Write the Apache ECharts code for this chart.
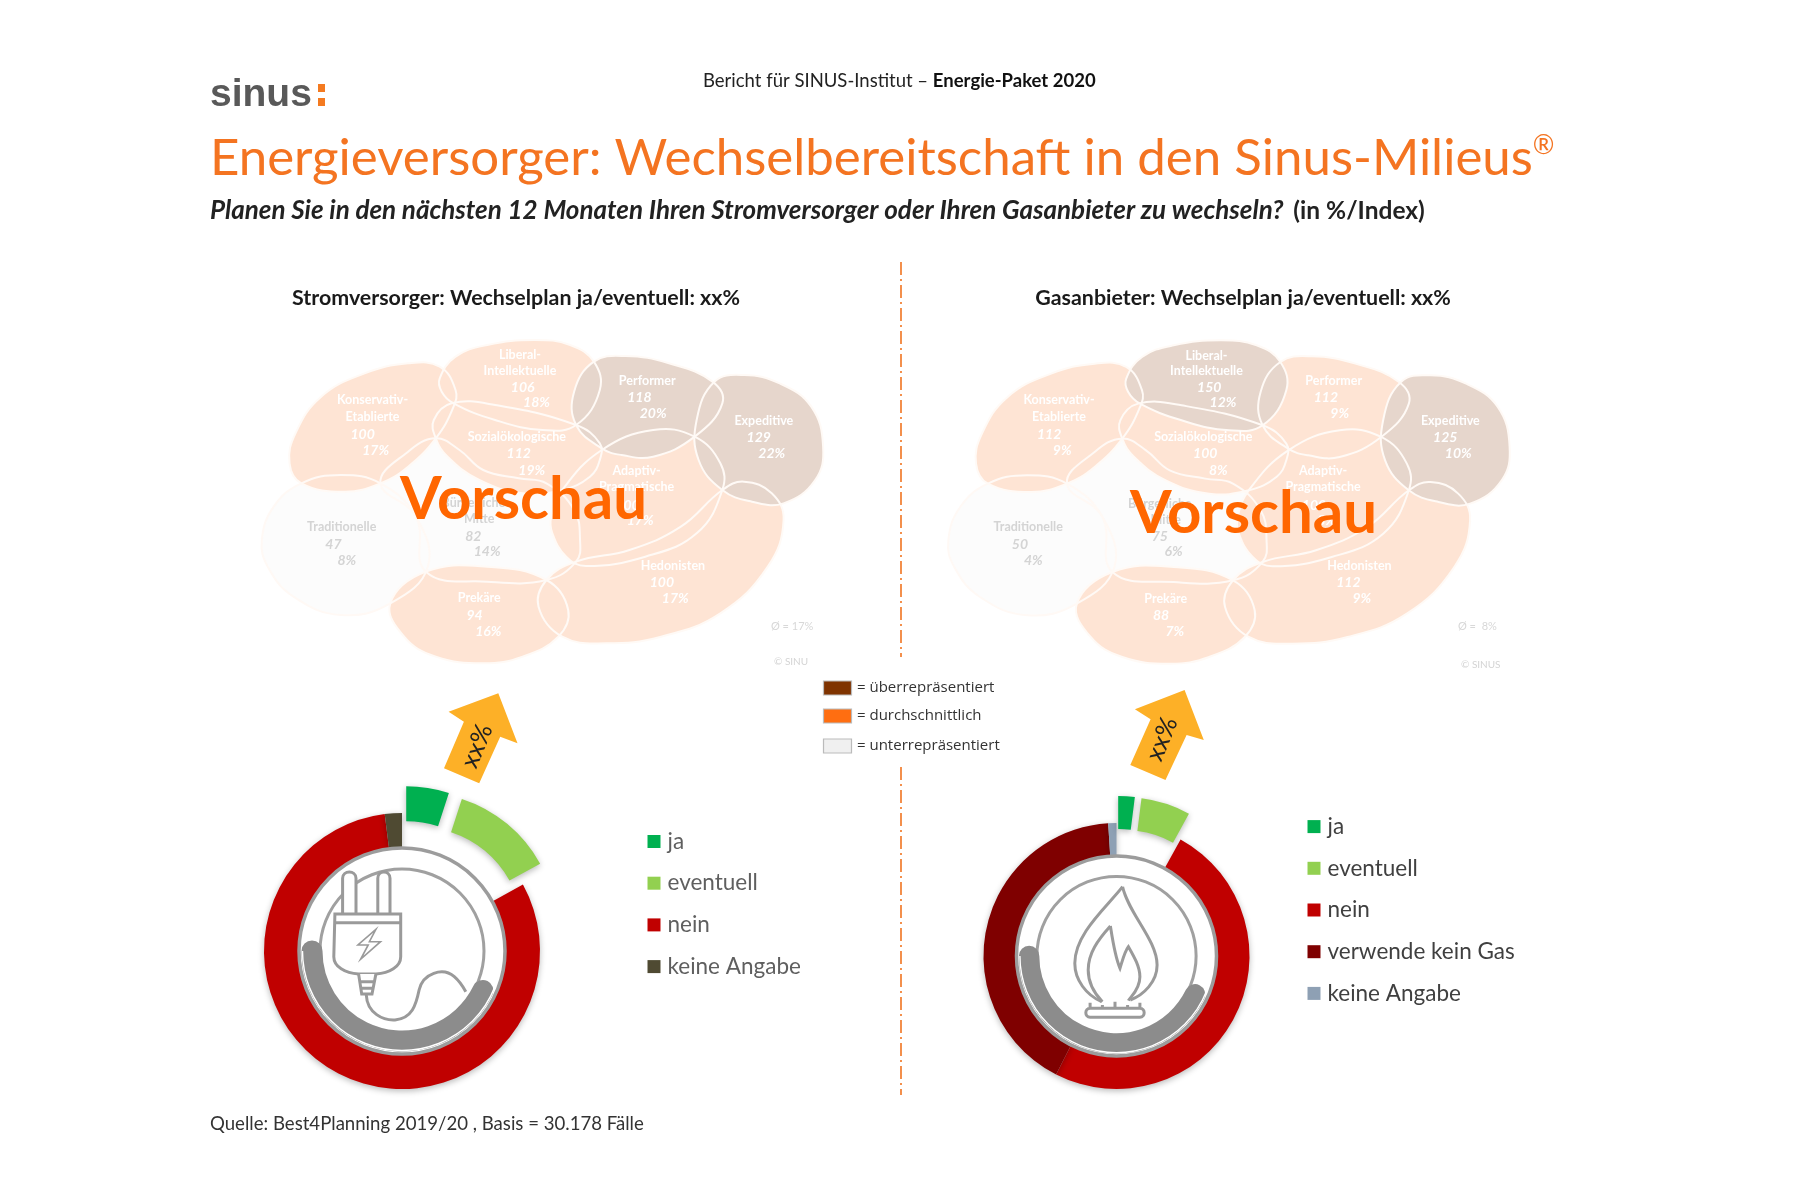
<!DOCTYPE html>
<html><head><meta charset="utf-8">
<style>html,body{margin:0;padding:0;background:#fff}#c{width:1800px;height:1200px;filter:blur(0.45px)}</style>
<script src="https://cdn.jsdelivr.net/npm/echarts@6/dist/echarts.min.js"></script>
</head><body><div id="c"></div>
<script>
// ---------- data ----------
const milieuNames = [['Konservativ-','Etablierte'],['Liberal-','Intellektuelle'],['Sozialökologische'],['Performer'],['Expeditive'],['Adaptiv-','Pragmatische'],['Hedonisten'],['Prekäre'],['Traditionelle'],['Bürgerliche','Mitte']];
const stromIndex = [100,106,112,118,129,100,100,94,47,82];
const stromShare = [17,18,19,20,22,17,17,16,8,14];
const gasIndex   = [112,150,100,112,125,100,112,88,50,75];
const gasShare   = [9,12,8,9,10,8,9,7,4,6];
const stromNames  = ['ja','eventuell','nein','keine Angabe'];
const stromValues = [5,12,81,2];
const gasNames    = ['ja','eventuell','nein','verwende kein Gas','keine Angabe'];
const gasValues   = [2,6,49.5,41.5,1];
const keyLabels   = ['= überrepräsentiert','= durchschnittlich','= unterrepräsentiert'];

// ---------- styles and layout ----------
const SANS='Lato, "Open Sans", sans-serif';
const colStrom=['#00B050','#92D050','#C00000','#4F4A32'];
const colGas=['#00B050','#92D050','#C00000','#7F0000','#8EA0B4'];
const keyCols=['#7F3300','#FF6E11','#F0F0F0'];
const blobs=[
 [[130,490],[100,430],[115,340],[180,230],[290,160],[400,130],[480,140],[520,210],[515,260],[470,355],[400,440],[330,490],[240,515]],
 [[480,175],[520,110],[600,75],[720,60],[810,75],[870,125],[885,210],[825,315],[740,330],[620,300],[515,250],[485,215]],
 [[470,355],[465,300],[510,250],[620,255],[825,315],[885,370],[885,420],[860,470],[790,510],[690,520],[580,480],[500,410]],
 [[820,215],[870,125],[950,108],[1060,130],[1170,185],[1195,250],[1125,350],[1020,410],[940,405],[890,385],[825,315]],
 [[1130,300],[1175,185],[1250,165],[1340,190],[1420,260],[1450,380],[1430,480],[1350,550],[1270,545],[1195,510],[1135,420]],
 [[790,510],[890,390],[1020,330],[1125,350],[1190,430],[1195,510],[1130,640],[1000,710],[850,738],[800,710],[765,640],[762,590]],
 [[750,780],[825,725],[960,690],[1090,620],[1195,510],[1250,485],[1320,520],[1350,600],[1310,740],[1190,880],[1040,950],[900,970],[790,950],[730,860]],
 [[355,850],[445,755],[600,740],[750,780],[805,870],[780,950],[690,1010],[590,1030],[470,1010],[390,950]],
 [[130,490],[230,465],[330,490],[420,590],[450,740],[355,850],[230,885],[110,830],[45,740],[30,660],[60,560]],
 [[330,490],[400,395],[470,355],[530,390],[590,450],[680,475],[750,490],[820,570],[835,660],[825,725],[750,780],[600,785],[445,755],[420,590]]
];
const labelPos=[
 [[310,240],[310,290],[285,343],[318,390]],
 [[683,106],[683,153],[690,203],[725,248]],
 [[675,350],[680,400],[713,450]],
 [[1005,183],[985,233],[1020,280]],
 [[1300,302],[1287,352],[1320,400]],
 [[978,452],[978,500],[955,555],[987,600]],
 [[1070,737],[1042,788],[1076,835]],
 [[580,835],[568,885],[603,935]],
 [[232,620],[211,673],[245,720]],
 [[565,550],[580,598],[565,650],[600,695]]
];
const MX=2.53,MY=3;
function mapSeries(id,ox,oy,idx,share){
  const order=idx.map((v,i)=>[i,v,share[i]]).sort((a,b)=>a[1]-b[1]);
  const pt=(p)=>[ox+p[0]/MX,oy+p[1]/MY];
  return {type:'custom',id:id,coordinateSystem:'none',silent:true,z:2,data:order,animation:false,
    renderItem:(params,api)=>{
      const m=api.value(0),v=api.value(1),s=api.value(2);
      const low=v<85,high=v>=115;
      const fill=high?'#E6D6CC':low?'#FCFCFC':'#FEE4D4';
      const txt=low?'#D4D4D4':'#FFFFFF';
      const pts=blobs[m].map(pt);
      const kids=[
        {type:'polygon',z2:1+params.dataIndex,shape:{points:pts,smooth:0.42},style:{fill:fill}},
        {type:'polygon',z2:50,shape:{points:pts,smooth:0.42},style:{fill:null,stroke:low?'#FFF9F5':'#FFFAF6',lineWidth:2}}
      ];
      const names=milieuNames[m],pos=labelPos[m];
      names.forEach((n,k)=>{const q=pt(pos[k]);kids.push({type:'text',z2:60,style:{text:n,x:q[0],y:q[1],fill:txt,font:'bold 12.5px '+SANS,align:'center',verticalAlign:'middle'}});});
      const a=pt(pos[names.length]),b=pt(pos[names.length+1]);
      kids.push({type:'text',z2:60,style:{text:String(v),x:a[0],y:a[1],fill:txt,font:'italic bold 14px '+SANS,align:'center',verticalAlign:'middle'}});
      kids.push({type:'text',z2:60,style:{text:s+'%',x:b[0],y:b[1],fill:txt,font:'italic bold 14px '+SANS,align:'center',verticalAlign:'middle'}});
      return {type:'group',children:kids};
    }};
}
function zmap(d,ox,oy){return d.replace(/(-?\d+(?:\.\d+)?) (-?\d+(?:\.\d+)?)/g,(m,x,y)=>(ox+x/2.613).toFixed(1)+' '+(oy+y/3).toFixed(1));}
function donut(name,names,vals,cols,cx,cy,r0,r1,off){
  return {type:'pie',name:name,center:[cx,cy],radius:[r0,r1],startAngle:90,clockwise:true,silent:true,animation:false,
    selectedMode:'multiple',selectedOffset:off,label:{show:false},labelLine:{show:false},z:3,
    itemStyle:{shadowBlur:6,shadowColor:'rgba(0,0,0,0.28)',shadowOffsetY:2},
    data:names.map((n,i)=>({name:n,value:vals[i],selected:i<2,itemStyle:{color:cols[i]}}))};
}
function legendOf(names,cols,left,top,color){
  return {show:true,orient:'vertical',left:left,top:top,padding:0,itemWidth:13,itemHeight:13,itemGap:17.7,icon:'rect',selectedMode:false,
    textStyle:{fontFamily:SANS,fontSize:22.5,color:color,padding:[0,0,0,2],height:24,lineHeight:24},
    data:names.map((n,i)=>({name:n,itemStyle:{color:cols[i]}}))};
}
function ringGraphic(cx,cy,r){
  const k=r/103;
  return [
   {type:'circle',z:20,shape:{cx:cx,cy:cy,r:103*k},style:{fill:'#fff',stroke:'#9C9C9C',lineWidth:3.5}},
   {type:'circle',z:21,shape:{cx:cx,cy:cy,r:82*k},style:{fill:'#fff',stroke:'#A0A0A0',lineWidth:3}},
   {type:'arc',z:22,shape:{cx:cx,cy:cy,r:90*k,startAngle:26*Math.PI/180,endAngle:Math.PI,clockwise:true},style:{fill:null,stroke:'#8C8C8C',lineWidth:21*k,lineCap:'round'}},
   {type:'arc',z:23,shape:{cx:cx,cy:cy,r:99.5*k,startAngle:0,endAngle:Math.PI,clockwise:true},style:{fill:null,stroke:'#FFFFFF',lineWidth:1.4}}
  ];
}
const IC='#9A9A9A';
const LX=240,LY=680,RX=960,RY=680;
const plug=[
 {d:'M268 700 L268 595 C268 570 303 570 303 595 L303 700 M360 700 L360 595 C360 570 392 570 392 595 L392 700',f:'#fff'},
 {d:'M248 702 L420 702 L420 830 C420 860 390 880 355 882 L310 882 C275 880 245 860 245 830 Z',f:'#fff'},
 {d:'M248 728 L420 728',f:null},
 {d:'M310 882 L318 942 L345 942 L355 882 M314 905 L351 905 M316 925 L349 925',f:'#fff'},
 {d:'M330 945 C332 1000 375 1022 405 1020 C450 1015 460 975 468 930 C478 880 530 860 560 890 C575 905 585 925 590 935',f:null},
 {d:'M355 748 L308 795 L335 795 L315 838 L367 785 L338 785 Z',f:null,w:1.6}
];
const flame=[
 {d:'M425 620 C440 700 515 780 515 855 C515 905 480 945 445 960 M425 620 C385 680 300 760 300 850 C300 900 330 945 370 965',f:null},
 {d:'M393 738 C400 790 405 830 418 865 C425 840 430 815 440 800 C455 830 470 860 470 890 C470 930 445 950 440 962 M393 738 C360 780 335 820 335 870 C335 910 355 945 372 965',f:null},
 {d:'M340 985 L470 985 C485 985 485 1012 470 1012 L340 1012 C325 1012 325 985 340 985 Z M340 985 L340 968 M405 985 L405 965 M470 985 L470 968 M372 985 L372 975 M438 985 L438 975',f:null}
];
const arrowL='M675 40 L545 95 L585 125 L533 265 L625 310 L680 170 L725 190 Z';
const arrowR='M587 30 L457 88 L498 118 L445 255 L537 300 L592 165 L637 180 Z';
const decoSeries={type:'custom',coordinateSystem:'none',silent:true,z:30,data:[[0]],animation:false,
  renderItem:()=>{
    const kids=[];
    plug.forEach(p=>kids.push({type:'path',shape:{pathData:zmap(p.d,LX,LY)},style:{fill:p.f,stroke:IC,lineWidth:p.w||3}}));
    flame.forEach(p=>kids.push({type:'path',shape:{pathData:zmap(p.d,RX,RY)},style:{fill:p.f,stroke:IC,lineWidth:p.w||3}}));
    kids.push({type:'path',shape:{pathData:zmap(arrowL,LX,LY)},style:{fill:'#FDB027'}});
    kids.push({type:'path',shape:{pathData:zmap(arrowR,RX,RY)},style:{fill:'#FDB027'}});
    return {type:'group',children:kids};
  }};
const T=(text,x,y,font,fill,align)=>({type:'text',z:40,x:x,y:y,style:{text:text,font:font,fill:fill,align:align||'left',verticalAlign:'middle'}});
const CL=[402,951],CR=[1116.5,956];
const dash=[13,4,2,4];
const keyY=[688,716,746];
const graphics=[].concat(
  [ T('sinus',210,95,'bold 39px "Liberation Sans", sans-serif','#595959'),
    {type:'rect',z:40,shape:{x:318,y:84,width:7,height:8},style:{fill:'#F47A20'}},
    {type:'rect',z:40,shape:{x:318,y:98,width:7,height:8},style:{fill:'#F47A20'}},
    {type:'line',z:1,shape:{x1:901,y1:262,x2:901,y2:657},style:{stroke:'#F2843A',lineWidth:1.8,lineDash:dash}},
    {type:'line',z:1,shape:{x1:901,y1:767,x2:901,y2:1095},style:{stroke:'#F2843A',lineWidth:1.8,lineDash:dash}},
    T('Stromversorger: Wechselplan ja/eventuell: xx%',516,298,'bold 21.4px '+SANS,'#1A1A1A','center'),
    T('Gasanbieter: Wechselplan ja/eventuell: xx%',1243,298,'bold 21.4px '+SANS,'#1A1A1A','center'),
    T('Vorschau',400,500,'bold 60px '+SANS,'#FF6600'),
    T('Vorschau',1130,514,'bold 60px '+SANS,'#FF6600'),
    T('Ø = 17%',771,626,'11px '+SANS,'#D8D8D8'),
    T('Ø =  8%',1458,626,'11px '+SANS,'#D8D8D8'),
    T('© SINU',774,662,'10px '+SANS,'#D4D4D4'),
    T('© SINUS',1461,665,'10px '+SANS,'#D4D4D4'),
    T('Quelle: Best4Planning 2019/20 , Basis = 30.178 Fälle',210,1124,'18.6px '+SANS,'#333333')
  ],
  keyLabels.map((t,i)=>({type:'rect',z:40,shape:{x:823.5,y:keyY[i]-7,width:28,height:14},style:{fill:keyCols[i],stroke:'#BBBBBB',lineWidth:1.2}})),
  keyLabels.map((t,i)=>T(t,857,keyY[i],'15px "Open Sans", sans-serif','#333333')),
  [ {type:'text',z:41,x:477,y:746,rotation:68*Math.PI/180,style:{text:'xx%',font:'25px '+SANS,fill:'#222',align:'center',verticalAlign:'middle'}},
    {type:'text',z:41,x:1162,y:739,rotation:68*Math.PI/180,style:{text:'xx%',font:'25px '+SANS,fill:'#222',align:'center',verticalAlign:'middle'}}
  ],
  ringGraphic(CL[0],CL[1],103),
  ringGraphic(CR[0],CR[1],100)
);
const chart=echarts.init(document.getElementById('c'),null,{renderer:'canvas'});
chart.setOption({
  animation:false,backgroundColor:'#fff',
  title:[
   {text:'Bericht für SINUS-Institut – {b|Energie-Paket 2020}',left:703,top:72,padding:0,textStyle:{fontFamily:SANS,fontSize:18.5,fontWeight:'normal',color:'#222',rich:{b:{fontFamily:SANS,fontSize:18.5,fontWeight:'bold',color:'#111'}}}},
   {text:'Energieversorger: Wechselbereitschaft in den Sinus-Milieus{r|®}',left:210,top:133,padding:0,textStyle:{fontFamily:SANS,fontSize:51,fontWeight:'normal',color:'#F47421',rich:{r:{fontFamily:SANS,fontSize:26,color:'#F47421',verticalAlign:'top',padding:[0,0,20,0]}}}},
   {text:'{i|Planen Sie in den nächsten 12 Monaten Ihren Stromversorger oder Ihren Gasanbieter zu wechseln?}  {b|(in %/Index)}',left:210,top:198,padding:0,textStyle:{rich:{i:{fontFamily:SANS,fontSize:26,fontStyle:'italic',fontWeight:'bold',color:'#222'},b:{fontFamily:SANS,fontSize:24.5,color:'#222',fontWeight:'bold'}}}}
  ],
  legend:[
   legendOf(stromNames,colStrom,647.5,829.5,'#5F5F5F'),
   legendOf(gasNames,colGas,1307.5,814.6,'#404040')
  ],
  series:[
   mapSeries('mapStrom',250,320,stromIndex,stromShare),
   mapSeries('mapGas',936.5,320.3,gasIndex,gasShare),
   donut('Stromversorger',stromNames,stromValues,colStrom,CL[0],CL[1],103,138,27),
   donut('Gasanbieter',gasNames,gasValues,colGas,CR[0],CR[1],100,133,27),
   decoSeries
  ],
  graphic:{elements:graphics}
});
</script></body></html>
